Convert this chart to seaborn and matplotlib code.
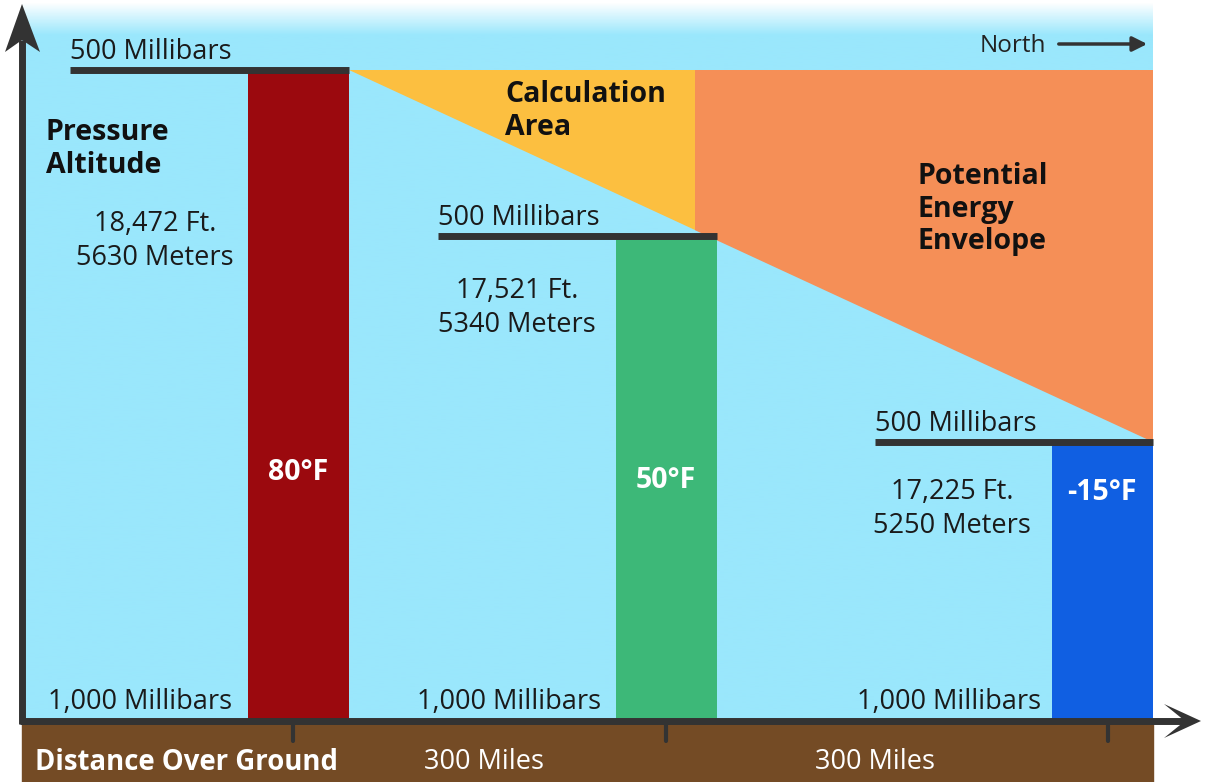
"""
500 mb pressure-altitude diagram: three air columns, temperature vs height of the 500 mb level
"""
import numpy as np
import matplotlib
matplotlib.use("Agg")
import matplotlib.pyplot as plt
import seaborn as sns
import pandas as pd

sns.set_theme(style="white")
plt.rcParams["font.family"] = ["Open Sans", "DejaVu Sans"]

SKY = "#9ae7fc"
GROUND = "#744b25"
AXIS = "#333333"
YELLOW = "#fcbf40"
ORANGE = "#f58f57"

# ---- data (canvas units, y measured upward from bottom of picture) ----
W, H = 1205, 782
ground_y = 61
station_x = [298, 666, 1102]            # column centres
level_y = [712, 546, 340]              # height of the 500 mb surface
col_colors = ["#9b090e", "#3db878", "#105fe2"]
temps = ["80°F", "50°F", "-15°F"]
temp_y = [310, 302, 290]
alt_ft = ["18,472 Ft.", "17,521 Ft.", "17,225 Ft."]
alt_m = ["5630 Meters", "5340 Meters", "5250 Meters"]
alt_label_x = [155, 517, 952]
alt_label_y = [541, 474, 273]
line_start = [70, 438, 875]            # left end of each 500 mb line
mb1000_x = [140, 509, 949]
tick_x = [293, 666, 1108]
dist_labels = ["300 Miles", "300 Miles"]
dist_label_x = [484, 875]

col_w = 101
right_edge = 1153
left_edge = 22

fig = plt.figure(figsize=(W / 100, H / 100), dpi=100)
ax = fig.add_axes([0, 0, 1, 1])

# sky with white fade at the top
grad = np.linspace(0, 1, 512).reshape(-1, 1)
sky_rgb = np.array(matplotlib.colors.to_rgb(SKY))
fade = np.clip((1 - grad) / 0.045, 0, 1)          # 0 at top -> 1 below
img = 1 - (1 - sky_rgb)[None, None, :] * fade[:, :, None]
ax.imshow(img, extent=[left_edge, right_edge, ground_y, H - 2], origin="lower",
          aspect="auto", zorder=0)

# ground strip
ax.fill_between([left_edge, right_edge], 0, ground_y - 3, color=GROUND, zorder=1)

# calculation area + potential energy envelope
top = level_y[0]
x0 = station_x[0] + col_w / 2
x2 = right_edge
slope = (level_y[2] - top) / (x2 - x0)
xm = 695
ym = top + slope * (xm - x0)
ax.fill([x0, xm, xm], [top, top, ym], color=YELLOW, lw=0, zorder=1)
ax.fill([xm, x2, x2, xm], [top, top, level_y[2], ym], color=ORANGE, lw=0, zorder=1)

# air columns
ax.bar(station_x, [ly - ground_y for ly in level_y], width=col_w,
       bottom=ground_y, color=col_colors, linewidth=0, zorder=2)

# 500 mb lines
levels = pd.DataFrame({
    "x": [v for s, c in zip(line_start, station_x) for v in (s, c + col_w / 2)],
    "y": [v for ly in level_y for v in (ly, ly)],
    "station": [i for i in range(3) for _ in (0, 1)],
})
sns.lineplot(data=levels, x="x", y="y", units="station", estimator=None,
             color=AXIS, lw=5, ax=ax, zorder=3, legend=False,
             solid_capstyle="butt")

# axes with arrow heads
ax.plot([left_edge, left_edge], [ground_y - 3, H - 40], color=AXIS, lw=5,
        solid_capstyle="butt", zorder=4)
ax.fill([left_edge, 5, left_edge, 40], [H - 4, H - 52, H - 40, H - 52],
        color=AXIS, lw=0, zorder=4)
ax.plot([left_edge - 2, 1185], [ground_y, ground_y], color=AXIS, lw=5,
        solid_capstyle="butt", zorder=4)
ax.fill([1201, 1164, 1185, 1164], [ground_y, ground_y + 17, ground_y, ground_y - 17],
        color=AXIS, lw=0, zorder=4)
for tx in tick_x:
    ax.plot([tx, tx], [ground_y, ground_y - 20], color=AXIS, lw=3, zorder=4)

# north arrow
ax.annotate("", xy=(1150, H - 44), xytext=(1056, H - 44),
            arrowprops=dict(arrowstyle="-|>", color=AXIS, lw=2.5,
                            mutation_scale=22), zorder=5)
ax.text(1046, H - 46, "North", ha="right", va="center", fontsize=17.5, color="#222222")

# texts
reg = dict(fontsize=19.5, color="#1a1a1a", zorder=6)
for s, ly in zip(line_start, level_y):
    ax.text(s, ly + 18, "500 Millibars", ha="left", va="center", **reg)
for x in mb1000_x:
    ax.text(x, ground_y + 19, "1,000 Millibars", ha="center", va="center", **reg)
for x, y, ft, m in zip(alt_label_x, alt_label_y, alt_ft, alt_m):
    ax.text(x, y + 17, ft, ha="center", va="center", **reg)
    ax.text(x, y - 17, m, ha="center", va="center", **reg)
for x, y, t in zip(station_x, temp_y, temps):
    ax.text(x, y, t, ha="center", va="center", fontsize=20.5, fontweight="bold",
            color="white", zorder=6)

bold = dict(fontsize=20.5, fontweight="bold", color="#111111", zorder=6,
            ha="left", va="center", linespacing=1.18)
ax.text(46, H - 149, "Pressure\nAltitude", **bold)
ax.text(505, H - 111, "Calculation\nArea", **bold)
ax.text(918, H - 209, "Potential\nEnergy\nEnvelope", **bold)

ax.text(35, 20, "Distance Over Ground", ha="left", va="center", fontsize=19.8,
        fontweight="bold", color="white", zorder=6)
for x, t in zip(dist_label_x, dist_labels):
    ax.text(x, 20, t, ha="center", va="center", fontsize=19.5, color="white", zorder=6)

ax.set_xlim(0, W)
ax.set_ylim(0, H)
ax.axis("off")

fig.savefig("out.png", dpi=100, facecolor="white")
